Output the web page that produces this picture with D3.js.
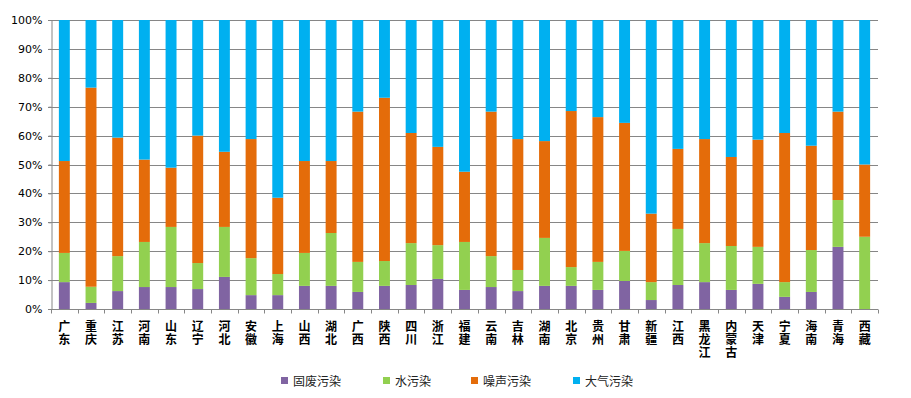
<!DOCTYPE html>
<html><head><meta charset="utf-8">
<script src="https://cdn.jsdelivr.net/npm/d3@7"></script>
<style>body{margin:0;background:#fff}svg{display:block}</style>
</head><body>
<svg id="c" width="911" height="398"></svg>
<script>
const categories = ["广东","重庆","江苏","河南","山东","辽宁","河北","安徽","上海","山西","湖北","广西","陕西","四川","浙江","福建","云南","吉林","湖南","北京","贵州","甘肃","新疆","江西","黑龙江","内蒙古","天津","宁夏","海南","青海","西藏"];
const seriesNames = ["固废污染","水污染","噪声污染","大气污染"];
const solidWaste = [9.3,2.1,6.2,7.6,7.6,6.9,11.1,4.8,4.8,8.0,8.0,5.9,8.0,8.3,10.4,6.6,7.6,6.2,8.0,8.0,6.6,9.7,3.1,8.3,9.3,6.6,8.7,4.2,5.9,21.5,0];
const water = [10.1,5.6,12.1,15.6,20.8,9.0,17.3,12.8,7.3,11.4,18.3,10.4,8.6,14.5,11.7,16.6,10.7,7.3,16.6,6.5,9.7,10.4,6.2,19.4,13.5,15.2,12.8,5.1,14.5,16.2,25];
const noise = [31.8,68.9,41.0,28.5,20.5,44.1,26.0,41.2,26.4,31.8,24.9,52.0,56.5,38.1,34.0,24.3,50.0,45.3,33.5,54.0,50.1,44.3,23.7,27.7,36.0,30.8,37.1,51.6,36.1,30.6,25];
const air = [48.8,23.4,40.7,48.3,51.1,40.0,45.6,41.2,61.5,48.8,48.8,31.7,26.9,39.1,43.9,52.5,31.7,41.2,41.9,31.5,33.6,35.6,67.0,44.6,41.2,47.4,41.4,39.1,43.5,31.7,50];
const yTicks = [0,0.1,0.2,0.3,0.4,0.5,0.6,0.7,0.8,0.9,1];
const colors = ["#8064A2","#92D050","#E46C0A","#00B0F0"];

const rows = categories.map((c,i)=>({cat:c,"固废污染":solidWaste[i],"水污染":water[i],"噪声污染":noise[i],"大气污染":air[i]}));
const stack = d3.stack().keys(seriesNames).offset(d3.stackOffsetExpand)(rows);

const svg = d3.select("#c");
const m = {l:51, r:33, t:20, b:89};
const W = 911, H = 398;
const x = d3.scaleBand().domain(categories).range([m.l, W-m.r]).paddingInner(0.59).paddingOuter(0.295);
const y = d3.scaleLinear().domain([0,1]).range([H-m.b, m.t]);

// gridlines
svg.append("g").selectAll("line").data(yTicks).join("line")
  .attr("x1", m.l-3).attr("x2", W-m.r)
  .attr("y1", d=>Math.round(y(d))+0.5).attr("y2", d=>Math.round(y(d))+0.5)
  .attr("stroke","#868686").attr("stroke-width",1);

// bars
svg.append("g").selectAll("g").data(stack).join("g")
  .attr("fill",(d,i)=>colors[i])
  .selectAll("rect").data(d=>d).join("rect")
  .attr("x", d=>x(d.data.cat)).attr("width", x.bandwidth())
  .attr("y", d=>y(d[1])).attr("height", d=>Math.max(0, y(d[0])-y(d[1])));

// y axis
const ya = svg.append("g").attr("transform",`translate(${m.l+0.5},0)`)
  .call(d3.axisLeft(y).tickValues(yTicks).tickFormat(d3.format(".0%")).tickSize(3).tickPadding(6));
ya.select(".domain").attr("stroke","#868686");
ya.selectAll(".tick line").attr("stroke","#868686");
ya.selectAll("text").attr("font-family","DejaVu Sans, Verdana, sans-serif").attr("font-size",11).attr("fill","#000");

// x axis
const step = x.step();
const xa = svg.append("g").attr("transform",`translate(0,${y(0)+0.5})`);
xa.append("line").attr("x1",m.l).attr("x2",W-m.r).attr("stroke","#868686");
const bounds = d3.range(categories.length+1).map(i=>m.l + i*step);
xa.selectAll("line.t").data(bounds).join("line").attr("class","t")
  .attr("x1",d=>Math.round(d)+0.5).attr("x2",d=>Math.round(d)+0.5).attr("y1",0).attr("y2",4).attr("stroke","#868686");
xa.selectAll("text.cat").data(categories).join("text").attr("class","cat")
  .attr("x", d=>x(d)+x.bandwidth()/2)
  .attr("y", 10.5)
  .style("writing-mode","vertical-rl").style("text-orientation","upright")
  .style("letter-spacing","1px")
  .attr("font-family","Noto Sans CJK SC, sans-serif").attr("font-weight","bold").attr("font-size",12).attr("fill","#000")
  .text(d=>d);

// legend
const legX = [281,383,471,573];
const leg = svg.append("g");
seriesNames.forEach((s,i)=>{
  leg.append("rect").attr("x",legX[i]).attr("y",377).attr("width",7).attr("height",7).attr("fill",colors[i]);
  leg.append("text").attr("x",legX[i]+12).attr("y",385.5).text(s)
    .attr("font-family","Noto Sans CJK SC, sans-serif").attr("font-size",12).attr("fill","#222");
});
</script>
</body></html>
